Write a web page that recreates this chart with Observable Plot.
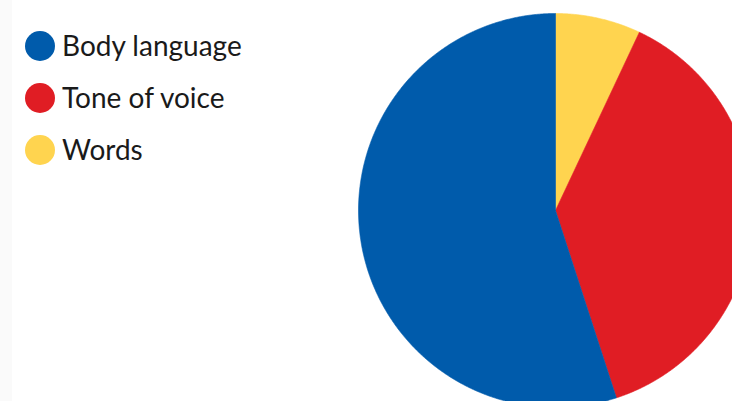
<!DOCTYPE html>
<html>
<head>
<meta charset="utf-8">
<script src="https://cdn.jsdelivr.net/npm/d3@7"></script>
<script src="https://cdn.jsdelivr.net/npm/@observablehq/plot@0.6"></script>
<style>
  html, body { margin: 0; padding: 0; background: #fff; }
  #wrap { position: relative; width: 732px; height: 401px; overflow: hidden; }
  #edge { position: absolute; left: 0; top: 0; width: 12px; height: 401px; background: #fafafa; }
  #legend { position: absolute; left: 0; top: 0; font-family: Lato, sans-serif; font-size: 28px; color: #1a1a1a; }
  .item { position: absolute; left: 25px; display: flex; align-items: center; height: 30px; white-space: nowrap; }
  .sw { width: 30px; height: 30px; border-radius: 50%; margin-right: 7px; flex: none; }
  .item span.t { line-height: 30px; position: relative; top: -1px; }
  #chart { position: absolute; left: 0; top: 0; }
</style>
</head>
<body>
<div id="wrap">
  <div id="edge"></div>
  <div id="chart"></div>
  <div id="legend"></div>
</div>
<script>
const categories = ["Words", "Tone of voice", "Body language"];
const values = [7, 38, 55];
const colors = ["#ffd44f", "#e01d24", "#005bab"];
const legendOrder = ["Body language", "Tone of voice", "Words"];

const colorOf = Object.fromEntries(categories.map((c, i) => [c, colors[i]]));

// Pie slices clockwise from 12 o'clock
const arcs = d3.pie().sort(null).value(d => d.value)(
  categories.map((c, i) => ({category: c, value: values[i]}))
);
const pts = [];
for (const a of arcs) {
  const cat = a.data.category;
  pts.push({category: cat, x: 0, y: 0});
  const n = Math.max(2, Math.ceil((a.endAngle - a.startAngle) / 0.005));
  for (let k = 0; k <= n; k++) {
    const t = a.startAngle + (a.endAngle - a.startAngle) * k / n;
    pts.push({category: cat, x: Math.sin(t), y: Math.cos(t)});
  }
  pts.push({category: cat, x: 0, y: 0});
}

const W = 732, H = 401, cx = 555, cy = 210, R = 197;
const chart = Plot.plot({
  width: W,
  height: H,
  margin: 0,
  style: {background: "transparent"},
  x: {domain: [-cx / R, (W - cx) / R], range: [0, W], axis: null},
  y: {domain: [-(H - cy) / R, cy / R], range: [H, 0], axis: null},
  color: {domain: categories, range: colors},
  marks: [
    Plot.line(pts, {x: "x", y: "y", z: "category", fill: "category", stroke: "category", strokeWidth: 0.6, curve: "linear"})
  ]
});
document.getElementById("chart").appendChild(chart);

const legend = document.getElementById("legend");
legendOrder.forEach((c, i) => {
  const it = document.createElement("div");
  it.className = "item";
  it.style.top = (30.5 + i * 52.2) + "px";
  const sw = document.createElement("div");
  sw.className = "sw";
  sw.style.background = colorOf[c];
  const t = document.createElement("span");
  t.className = "t";
  t.textContent = c;
  it.appendChild(sw);
  it.appendChild(t);
  legend.appendChild(it);
});
</script>
</body>
</html>
